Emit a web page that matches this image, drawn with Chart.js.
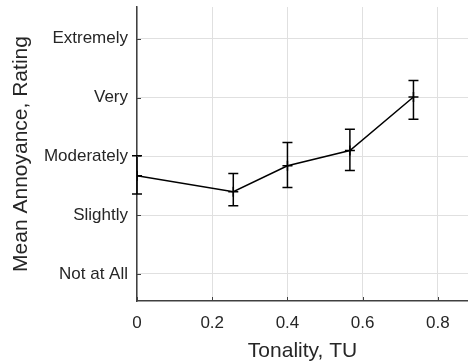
<!DOCTYPE html>
<html>
<head>
<meta charset="utf-8">
<script src="https://cdn.jsdelivr.net/npm/chart.js@4/dist/chart.umd.min.js"></script>
<style>
  html, body { margin: 0; padding: 0; background: #fff; overflow: hidden; }
  canvas { display: block; }
</style>
</head>
<body>
<canvas id="grafico" width="468" height="364"></canvas>
<script>
// dados
const tonalidade = [0, 0.256, 0.40, 0.566, 0.735];
const incomodo = [2.67, 2.40, 2.84, 3.10, 4.01];
const erroSup = [3.01, 2.71, 3.235, 3.46, 4.29];
const erroInf = [2.36, 2.16, 2.47, 2.76, 3.63];
const ticksX = [0, 0.2, 0.4, 0.6, 0.8];
const ticksY = [1, 2, 3, 4, 5];
const rotulosY = ['Not at All', 'Slightly', 'Moderately', 'Very', 'Extremely'];

const corTexto = '#262626';
const corEixo = '#404040';
const corGrade = '#e0e0e0';
const fonte = "'Liberation Sans', Arial, sans-serif";

// barras de erro e ticks internos
const pluginErros = {
    id: 'barrasErro',
    afterDatasetsDraw(chart) {
        const ctx = chart.ctx;
        const x = chart.scales.x;
        const y = chart.scales.y;
        const area = chart.chartArea;
        ctx.save();
        ctx.strokeStyle = '#000';
        ctx.lineWidth = 1.5;
        for (let i = 0; i < tonalidade.length; i++) {
            const px = x.getPixelForValue(tonalidade[i]);
            const pTop = y.getPixelForValue(erroSup[i]);
            const pBot = y.getPixelForValue(erroInf[i]);
            ctx.beginPath();
            ctx.moveTo(px, pTop); ctx.lineTo(px, pBot);
            ctx.moveTo(px - 5, pTop); ctx.lineTo(px + 5, pTop);
            ctx.moveTo(px - 5, pBot); ctx.lineTo(px + 5, pBot);
            ctx.stroke();
        }
        // ticks para dentro
        ctx.strokeStyle = corEixo;
        ctx.lineWidth = 1;
        ticksX.forEach(v => {
            const px = Math.round(x.getPixelForValue(v)) + 0.5;
            ctx.beginPath();
            ctx.moveTo(px, area.bottom); ctx.lineTo(px, area.bottom - 4);
            ctx.stroke();
        });
        ticksY.forEach(v => {
            const py = Math.round(y.getPixelForValue(v)) + 0.5;
            ctx.beginPath();
            ctx.moveTo(area.left, py); ctx.lineTo(area.left + 4, py);
            ctx.stroke();
        });
        ctx.restore();
    }
};

new Chart(document.getElementById('grafico').getContext('2d'), {
    type: 'line',
    data: {
        datasets: [{
            data: tonalidade.map((t, i) => ({ x: t, y: incomodo[i] })),
            borderColor: '#000',
            backgroundColor: '#000',
            borderWidth: 1.5,
            pointStyle: 'cross',
            pointRadius: 5,
            pointBorderWidth: 1.5,
            pointBorderColor: '#000',
            tension: 0,
            fill: false
        }]
    },
    options: {
        responsive: false,
        animation: false,
        layout: { autoPadding: false, padding: { top: 7, right: 0, left: 0, bottom: 0 } },
        plugins: { legend: { display: false }, tooltip: { enabled: false } },
        scales: {
            x: {
                type: 'linear',
                min: 0,
                max: 0.88,
                afterBuildTicks: s => { s.ticks = ticksX.map(v => ({ value: v })); },
                afterFit: s => { s.height = 63; s.paddingLeft = 0; s.paddingRight = 0; },
                grid: { color: corGrade, drawTicks: false },
                border: { color: corEixo, width: 1.5 },
                ticks: {
                    padding: 12,
                    color: corTexto,
                    font: { family: fonte, size: 17 },
                    maxRotation: 0,
                    callback: v => String(v)
                },
                title: {
                    display: true,
                    text: 'Tonality, TU',
                    color: corTexto,
                    font: { family: fonte, size: 21 },
                    padding: { top: 4, bottom: 0 }
                }
            },
            y: {
                type: 'linear',
                min: 0.54,
                max: 5.54,
                afterBuildTicks: s => { s.ticks = ticksY.map(v => ({ value: v })); },
                afterFit: s => { s.width = 137; s.paddingTop = 0; s.paddingBottom = 0; },
                grid: { color: corGrade, drawTicks: false },
                border: { color: corEixo, width: 1.5 },
                ticks: {
                    padding: 9,
                    color: corTexto,
                    font: { family: fonte, size: 17 },
                    callback: v => rotulosY[ticksY.indexOf(v)] || ''
                },
                title: {
                    display: true,
                    text: 'Mean Annoyance, Rating',
                    color: corTexto,
                    font: { family: fonte, size: 21 },
                    padding: { top: 9, bottom: 0 }
                }
            }
        }
    },
    plugins: [pluginErros]
});
</script>
</body>
</html>
